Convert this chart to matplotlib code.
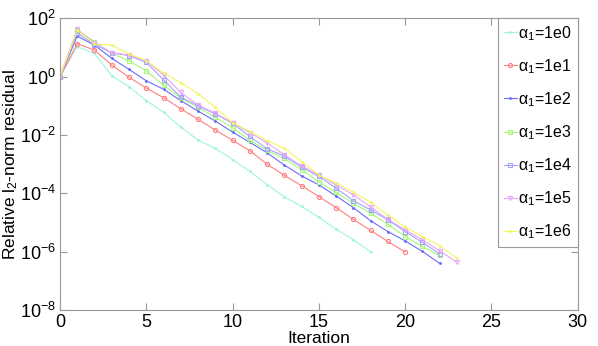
import numpy as np
import matplotlib
matplotlib.use('Agg')
import matplotlib.pyplot as plt

plt.rcParams['font.family'] = ['Liberation Sans', 'DejaVu Sans']
plt.rcParams['mathtext.fontset'] = 'custom'
plt.rcParams['mathtext.rm'] = 'Liberation Sans'
plt.rcParams['mathtext.it'] = 'Liberation Sans:italic'

# log10 of relative residual (iteration 0 .. end)
log_res_1e0 = [0, 1.03, 0.80, 0.03, -0.34, -0.82, -1.22, -1.73, -2.17, -2.46,
               -2.84, -3.25, -3.70, -4.12, -4.45, -4.82, -5.23, -5.59, -6.01]
log_res_1e1 = [0, 1.13, 0.91, 0.40, -0.02, -0.39, -0.72, -1.10, -1.46, -1.83,
               -2.18, -2.54, -3.00, -3.38, -3.74, -4.11, -4.49, -4.89, -5.27,
               -5.65, -6.01]
log_res_1e2 = [0, 1.39, 1.08, 0.63, 0.25, -0.14, -0.43, -0.82, -1.18, -1.52,
               -1.90, -2.25, -2.61, -3.03, -3.40, -3.71, -4.09, -4.49, -4.94,
               -5.31, -5.63, -5.99, -6.40]
log_res_1e3 = [0, 1.60, 1.20, 0.80, 0.54, 0.20, -0.29, -0.73, -1.05, -1.39,
               -1.75, -2.18, -2.53, -2.80, -3.19, -3.60, -3.97, -4.34, -4.68,
               -5.06, -5.48, -5.82, -6.13]
log_res_1e4 = [0, 1.50, 1.10, 0.82, 0.72, 0.49, -0.11, -0.70, -1.00, -1.28,
               -1.60, -2.05, -2.47, -2.72, -3.10, -3.42, -3.82, -4.25, -4.57,
               -4.91, -5.31, -5.68, -6.07]
log_res_1e5 = [0, 1.63, 1.15, 0.82, 0.74, 0.54, 0.06, -0.54, -0.97, -1.26,
               -1.58, -1.92, -2.27, -2.68, -3.06, -3.37, -3.71, -4.05, -4.47,
               -4.89, -5.25, -5.59, -5.97, -6.36]
log_res_1e6 = [0, 1.60, 1.12, 1.08, 0.78, 0.55, 0.12, -0.20, -0.58, -1.05,
               -1.58, -1.88, -2.19, -2.46, -2.91, -3.37, -3.65, -3.96, -4.31,
               -4.74, -5.16, -5.48, -5.80, -6.22]

labels = ['1e0', '1e1', '1e2', '1e3', '1e4', '1e5', '1e6']
series = [log_res_1e0, log_res_1e1, log_res_1e2, log_res_1e3,
          log_res_1e4, log_res_1e5, log_res_1e6]
colors = ['#9ff5e0', '#ff8080', '#6b6bff', '#a6f77a', '#a3a3ff', '#e6a6ff', '#f5f560']
markers = ['.', 'o', '.', 's', 's', 'v', '.']
msizes = [2.5, 3, 2.5, 2.5, 2.8, 3, 2.5]

fig = plt.figure(figsize=(5.98, 3.46), dpi=100)
ax = fig.add_axes([0.1003, 0.104, 0.8657, 0.843])

for lg, lab, c, m, ms in zip(series, labels, colors, markers, msizes):
    y = 10.0 ** np.array(lg)
    ax.semilogy(np.arange(len(y)), y, color=c, marker=m, markersize=ms,
                markerfacecolor='none' if m in 'osv' else c,
                markeredgecolor=c, markeredgewidth=0.8, linewidth=0.8,
                label='α$_1$=' + lab)

ax.set_xlim(0, 30)
ax.set_ylim(1e-8, 1e2)
ax.set_xticks([0, 5, 10, 15, 20, 25, 30])
ax.set_yticks([1e-8, 1e-6, 1e-4, 1e-2, 1e0, 1e2])
ax.yaxis.set_minor_locator(matplotlib.ticker.NullLocator())

for s in ax.spines.values():
    s.set_color('#999999')
    s.set_linewidth(0.8)
ax.tick_params(direction='in', top=True, right=True, length=5,
               color='#999999', labelsize=13, pad=3)

ax.set_xlabel('Iteration', fontsize=12.5, labelpad=0)
ax.set_ylabel(r'Relative l$_2$-norm residual', fontsize=12.5, labelpad=0)

leg = ax.legend(loc='upper right', fontsize=11.5,
                fancybox=False, framealpha=1, edgecolor='#999999',
                handlelength=0.8, handletextpad=0.1, labelspacing=0.9,
                borderpad=0.35, borderaxespad=0)
leg.get_frame().set_linewidth(0.8)

fig.savefig('out.png', dpi=100)
